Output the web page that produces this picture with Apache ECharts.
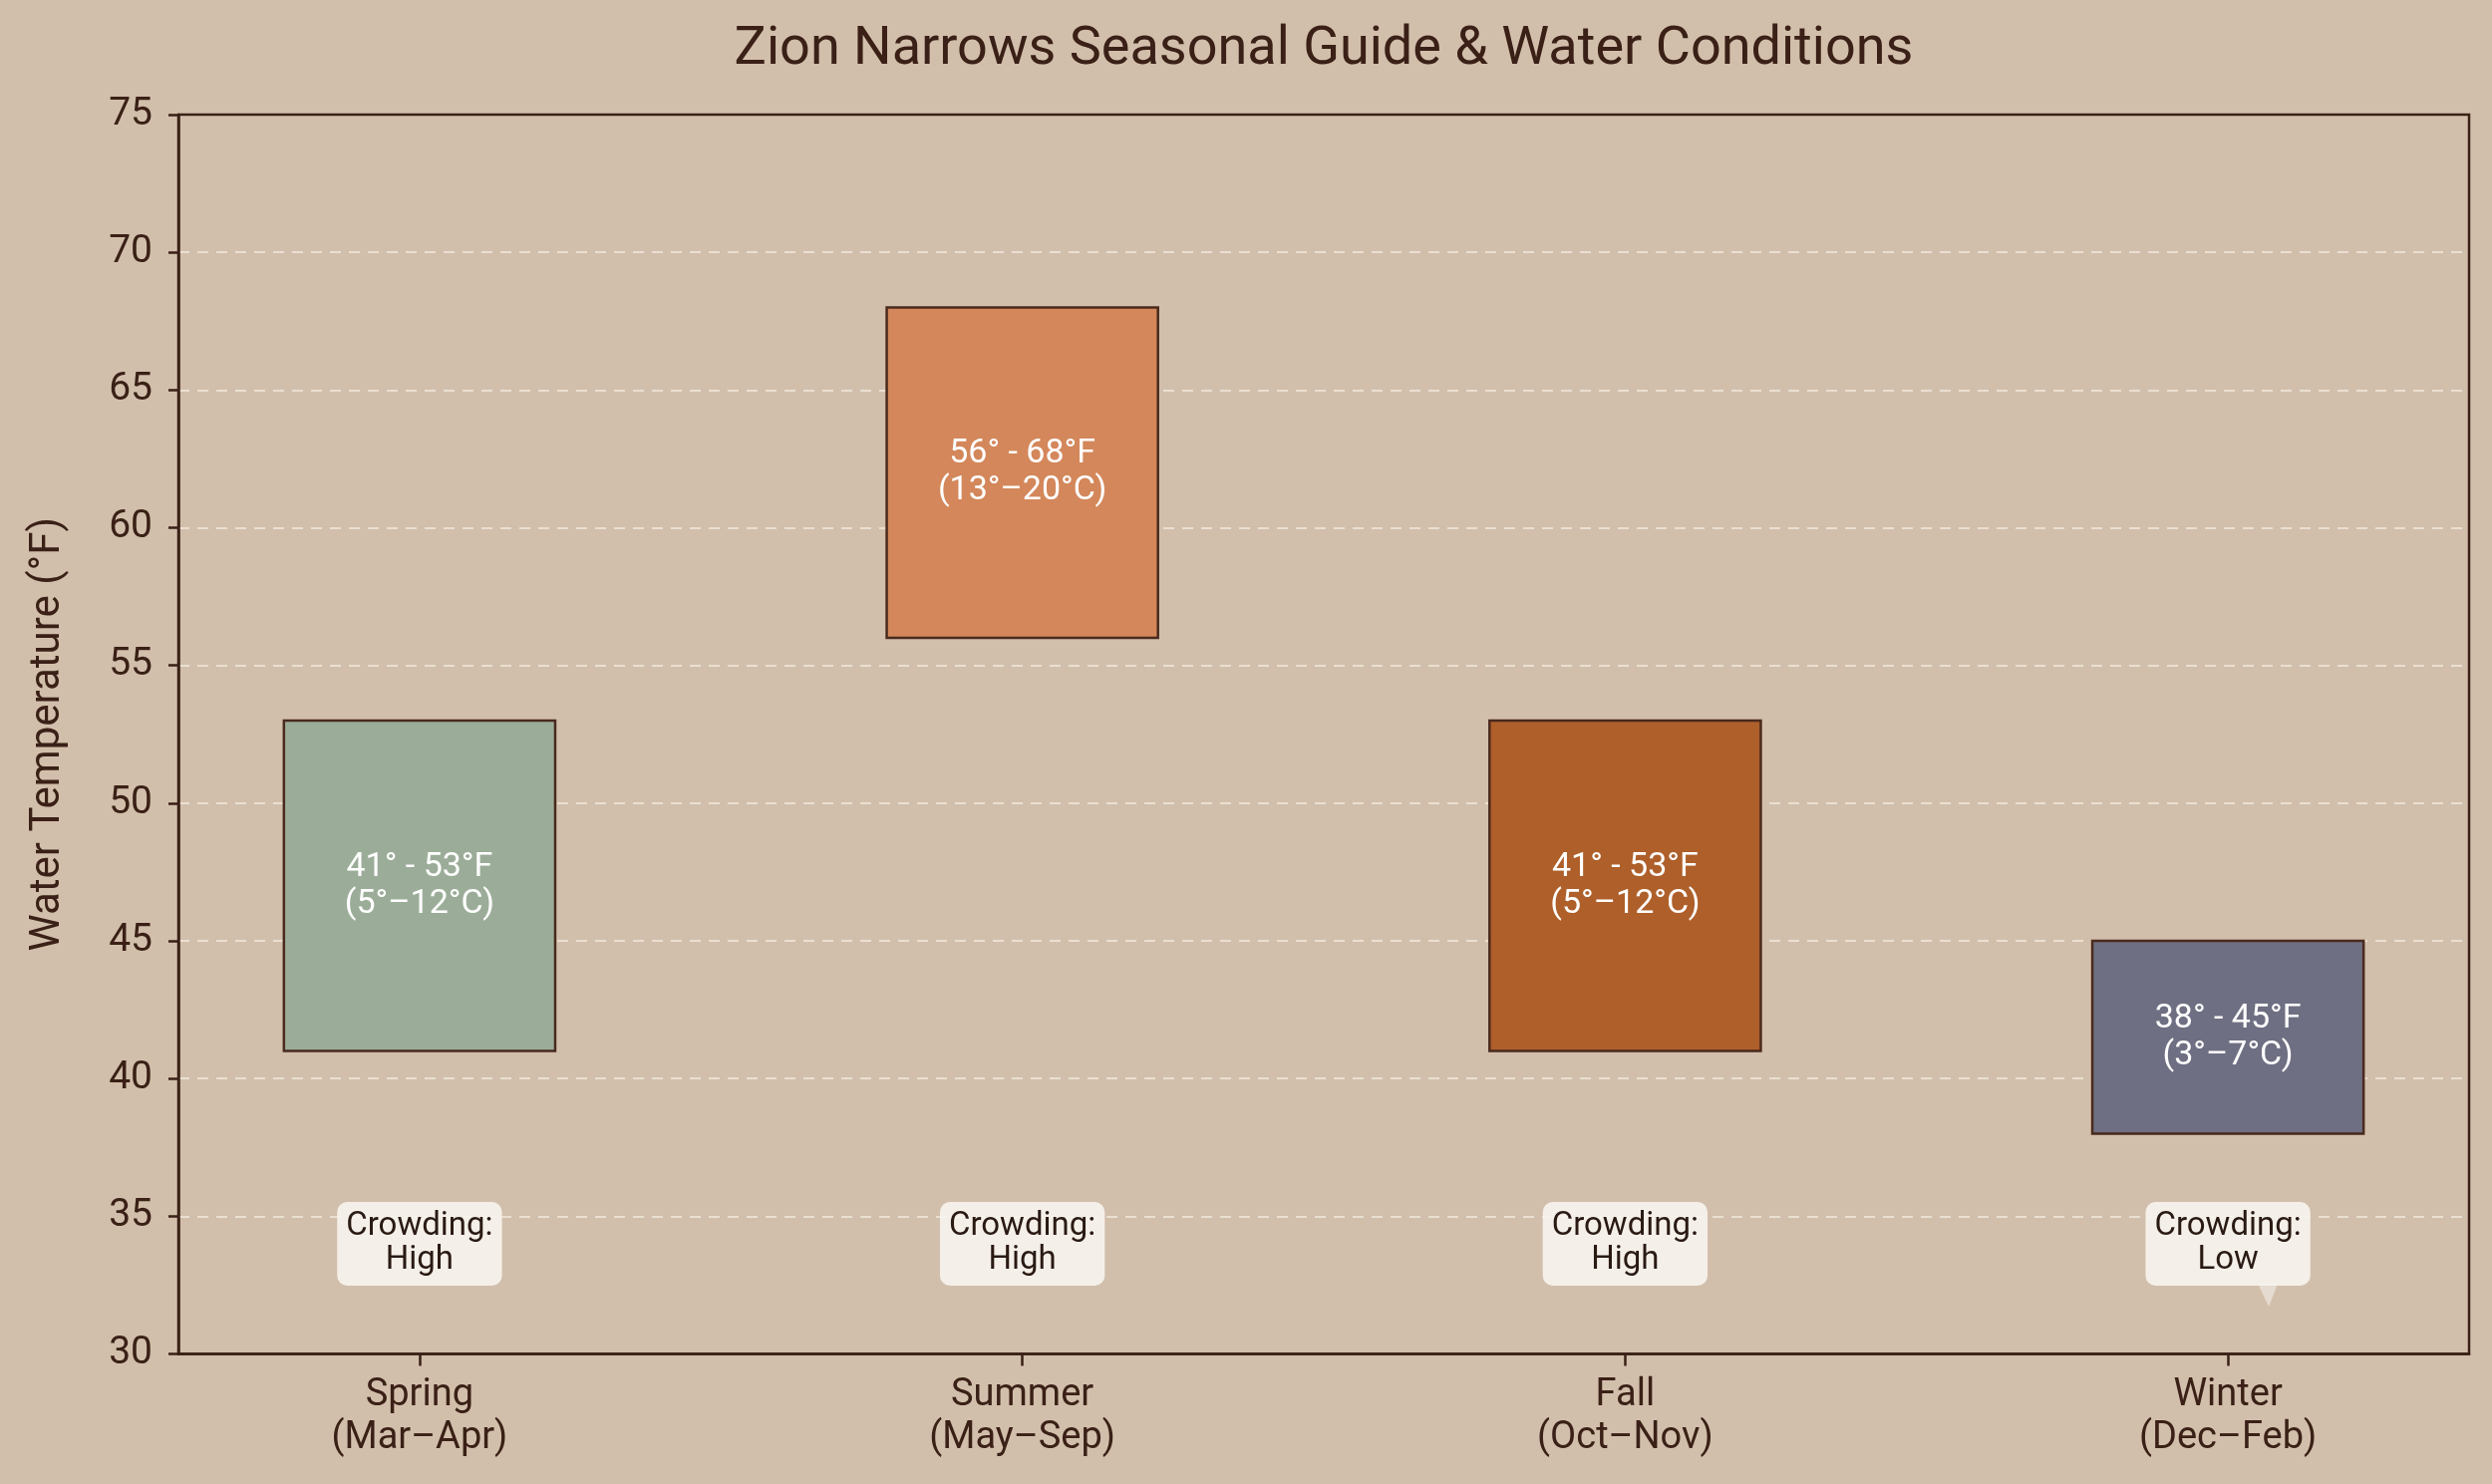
<!DOCTYPE html>
<html>
<head>
<meta charset="utf-8">
<script src="https://cdn.jsdelivr.net/npm/echarts@6/dist/echarts.min.js"></script>
<style>
html,body{margin:0;padding:0;background:#d2bfab;}
#chart{width:2500px;height:1489px;}
</style>
</head>
<body>
<div id="chart"></div>
<script>
const seasons = ['Spring', 'Summer', 'Fall', 'Winter'];
const months = ['(Mar–Apr)', '(May–Sep)', '(Oct–Nov)', '(Dec–Feb)'];
const lowF = [41, 56, 41, 38];
const highF = [53, 68, 53, 45];
const lowC = [5, 13, 5, 3];
const highC = [12, 20, 12, 7];
const crowding = ['High', 'High', 'High', 'Low'];
const crowdingY = 34;
const crowdingPointer = [false, false, false, true];
const boxColors = ['#9bad98', '#d3875a', '#ae5f2a', '#6e6f82'];
const yTicks = [30, 35, 40, 45, 50, 55, 60, 65, 70, 75];

const FONT = 'Roboto, "Noto Sans", sans-serif';
const DARK = '#3a2016';
const BOX_W = 0.45;

const chart = echarts.init(document.getElementById('chart'), null, {renderer: 'canvas'});

const boxData = seasons.map((s, i) => [i, lowF[i], highF[i]]);
const crowdData = seasons.map((s, i) => [i, crowdingY]);

chart.setOption({
  backgroundColor: '#d2bfab',
  animation: false,
  title: {
    text: 'Zion Narrows Seasonal Guide & Water Conditions',
    left: 1323,
    top: 18,
    textAlign: 'center',
    textStyle: {fontFamily: FONT, fontSize: 54, fontWeight: 'normal', color: DARK}
  },
  grid: {
    left: 179, right: 23, top: 115, bottom: 130.5,
    show: true, borderColor: DARK, borderWidth: 2.5, backgroundColor: 'transparent'
  },
  xAxis: {
    type: 'value',
    min: -0.4, max: 3.4,
    axisLine: {show: true, onZero: false, lineStyle: {color: DARK, width: 2.5}},
    axisTick: {show: true, customValues: [0, 1, 2, 3], length: 12, lineStyle: {color: DARK, width: 2.5}},
    axisLabel: {
      customValues: [0, 1, 2, 3],
      formatter: v => seasons[v] + '\n' + months[v],
      fontFamily: FONT, fontSize: 38, lineHeight: 43, color: DARK, margin: 20
    },
    splitLine: {show: false}
  },
  yAxis: {
    type: 'value',
    min: 30, max: 75, interval: 5,
    name: 'Water Temperature (°F)',
    nameLocation: 'middle',
    nameGap: 110,
    nameTextStyle: {fontFamily: FONT, fontSize: 42, color: DARK},
    axisLine: {show: true, onZero: false, lineStyle: {color: DARK, width: 2.5}},
    axisTick: {show: true, length: 10, lineStyle: {color: DARK, width: 2.5}},
    axisLabel: {fontFamily: FONT, fontSize: 39, color: DARK, margin: 26},
    splitLine: {show: true, showMinLine: false, showMaxLine: false, lineStyle: {color: '#eadfd2', width: 2, type: [11, 8]}}
  },
  series: [
    {
      type: 'custom',
      data: boxData,
      z: 5,
      renderItem: function (params, api) {
        const i = api.value(0);
        const p1 = api.coord([i - BOX_W / 2, api.value(2)]);
        const p2 = api.coord([i + BOX_W / 2, api.value(1)]);
        const mid = api.coord([i, (api.value(1) + api.value(2)) / 2]);
        return {
          type: 'group',
          children: [
            {
              type: 'rect',
              shape: {x: p1[0], y: p1[1], width: p2[0] - p1[0], height: p2[1] - p1[1]},
              style: {fill: boxColors[i], stroke: '#4a2a1e', lineWidth: 2.5}
            },
            {
              type: 'text',
              style: {
                x: mid[0], y: mid[1],
                text: lowF[i] + '° - ' + highF[i] + '°F\n(' + lowC[i] + '°–' + highC[i] + '°C)',
                align: 'center', verticalAlign: 'middle',
                fill: '#ffffff', font: '34px ' + FONT, lineHeight: 37
              }
            }
          ]
        };
      }
    },
    {
      type: 'custom',
      data: crowdData,
      z: 6,
      renderItem: function (params, api) {
        const i = api.value(0);
        const c = api.coord([i, api.value(1)]);
        const children = [];
        if (crowdingPointer[i]) {
          children.push({
            type: 'polygon',
            shape: {points: [[c[0] + 30, c[1] + 40], [c[0] + 50, c[1] + 40], [c[0] + 41, c[1] + 63]]},
            style: {fill: 'rgba(246,243,238,0.55)'}
          });
        }
        children.push({
          type: 'text',
          style: {
            x: c[0], y: c[1],
            text: 'Crowding:\n' + crowding[i],
            align: 'center', verticalAlign: 'middle',
            fill: '#2a1a14', font: '33px ' + FONT, lineHeight: 34,
            backgroundColor: 'rgba(246,243,238,0.93)',
            padding: [8, 9, 8, 9],
            borderRadius: 10
          }
        });
        return {type: 'group', children: children};
      }
    }
  ]
});
</script>
</body>
</html>
